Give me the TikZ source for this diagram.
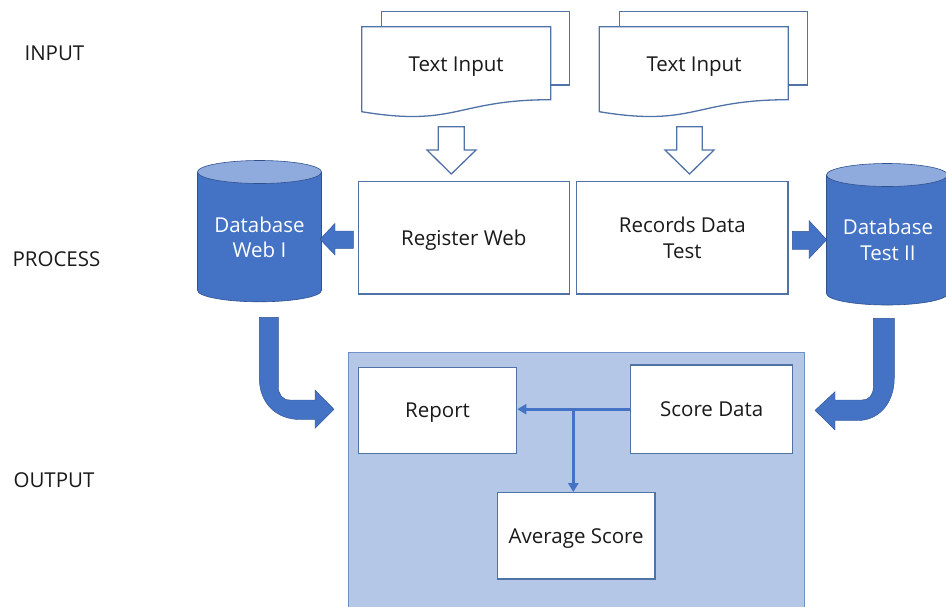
\documentclass[tikz,border=0pt]{standalone}
\usepackage{fontspec}
\setmainfont{Open Sans}
\usetikzlibrary{arrows.meta}
\definecolor{edgeblue}{HTML}{5072A7}
\definecolor{dbblue}{HTML}{4472C4}
\definecolor{dbtop}{HTML}{8FAADC}
\definecolor{dbedge}{HTML}{2F528F}
\definecolor{outfill}{HTML}{B4C7E7}
\definecolor{outedge}{HTML}{6F8FC8}
\definecolor{txt}{HTML}{1A1A1A}
\begin{document}
\begin{tikzpicture}[x=1pt,y=-1pt,
  every node/.style={font=\fontsize{20.5}{25.5}\selectfont, text=txt, text depth=0pt},
  lbl/.style={anchor=west},
  wbox/.style={draw=edgeblue, line width=1.3pt, fill=white, inner sep=0pt},
  docshape/.style={draw=edgeblue, line width=1.3pt, fill=white},
  hollow/.style={draw=edgeblue, line width=1.3pt, fill=white, line join=miter},
  blockarrow/.style={fill=dbblue, draw=dbedge, line width=0.4pt},
  dbtext/.style={text=white, align=center},
  conn/.style={draw=dbblue, line width=2.8pt, -{Triangle[length=9pt,width=10pt]}},
]
\useasboundingbox (0,0) rectangle (946,606);
\clip (0,0) rectangle (946,606);

% row labels
\node[lbl] (linput) at (21,53) {INPUT};
\node[lbl] (lprocess) at (9,259) {PROCESS};
\node[lbl] (loutput) at (10,480) {OUTPUT};

% documents
\draw[docshape] (381.7,11.7) rectangle (569.3,85);
\draw[docshape] (361.7,26.7) -- (550.7,26.7) -- (550.7,99.7)
  .. controls (456.2,99.7) and (456.2,127.4) .. (361.7,111.7) -- cycle;
\node (doc1) at (456.2,64) {Text Input};

\draw[docshape] (619.3,11.7) rectangle (807.3,85);
\draw[docshape] (599.3,26.7) -- (788.3,26.7) -- (788.3,99.7)
  .. controls (693.8,99.7) and (693.8,127.4) .. (599.3,111.7) -- cycle;
\node (doc2) at (694,64) {Text Input};

% hollow down arrows
\draw[hollow] (438.3,126.7) -- (464.3,126.7) -- (464.3,150) -- (476,150)
  -- (451.3,174) -- (427,150) -- (438.3,150) -- cycle;
\draw[hollow] (676.7,126.7) -- (702.3,126.7) -- (702.3,150) -- (714,150)
  -- (689.5,174) -- (665,150) -- (676.7,150) -- cycle;

% process boxes
\node[wbox, minimum width=211, minimum height=112.3] (reg) at (463.8,237.9) {Register Web};
\node[wbox, minimum width=211.3, minimum height=112.3, align=center] (rec) at (682.4,237.9) {Records Data\\Test};

% cylinders
\draw[fill=dbblue, draw=dbedge, line width=0.6pt]
  (197.5,172) -- (197.5,290.3)
  .. controls (197.5,296.6) and (225.2,301.8) .. (259.5,301.8)
  .. controls (293.8,301.8) and (321.5,296.6) .. (321.5,290.3)
  -- (321.5,172) -- cycle;
\draw[fill=dbtop, draw=dbedge, line width=0.6pt] (259.5,172) ellipse [x radius=62, y radius=11.5];
\node[dbtext] (db1) at (259.5,237) {Database\\Web I};

\draw[fill=dbblue, draw=dbedge, line width=0.6pt]
  (826.5,175) -- (826.5,293.5)
  .. controls (826.5,299.8) and (853.6,305) .. (887,305)
  .. controls (920.4,305) and (947.5,299.8) .. (947.5,293.5)
  -- (947.5,175) -- cycle;
\draw[fill=dbtop, draw=dbedge, line width=0.6pt] (887,175) ellipse [x radius=60.5, y radius=11.5];
\node[dbtext] (db2) at (888,239.5) {Database\\Test II};

% small block arrows
\draw[blockarrow] (353.3,231) -- (335,231) -- (335,223.3) -- (320,239.3)
  -- (335,255) -- (335,248.3) -- (353.3,248.3) -- cycle;
\draw[blockarrow] (792.3,231.3) -- (809,231.3) -- (809,220.5) -- (826.7,239.7)
  -- (809,258.5) -- (809,249.5) -- (792.3,249.5) -- cycle;

% output area
\draw[fill=outfill, draw=outedge, line width=1.3pt] (348.3,352.3) rectangle (804.3,640);
\node[wbox, minimum width=158.4, minimum height=86] (report) at (437.5,410.3) {Report};
\node[wbox, minimum width=162, minimum height=88.3] (score) at (711.7,409.2) {Score Data};
\node[wbox, minimum width=157.7, minimum height=86.3] (avg) at (576.2,535.9) {Average Score};

\coordinate (br) at (573.3,409.7);
\draw[conn] (score.west) -- (score.west -| report.east);
\draw[conn] (br) -- (br |- avg.north);

% bent block arrows
\draw[blockarrow] (259.3,317.3) -- (278.3,317.3) -- (278.3,386)
  .. controls (278.3,394) and (282,400) .. (290,400)
  -- (315,400) -- (315,390) -- (334,409.3) -- (315,428.3) -- (315,419.5)
  -- (300,419.5) .. controls (276,419.5) and (259.3,403) .. (259.3,378) -- cycle;

\draw[blockarrow] (873.3,318.3) -- (894.3,318.3) -- (894.3,378)
  .. controls (894.3,404) and (878,420.5) .. (858,420.5)
  -- (835,420.5) -- (835,430) -- (815,410.3) -- (835,391.7) -- (835,400)
  -- (862,400) .. controls (869,400) and (873.3,395) .. (873.3,387) -- cycle;
\end{tikzpicture}
\end{document}
